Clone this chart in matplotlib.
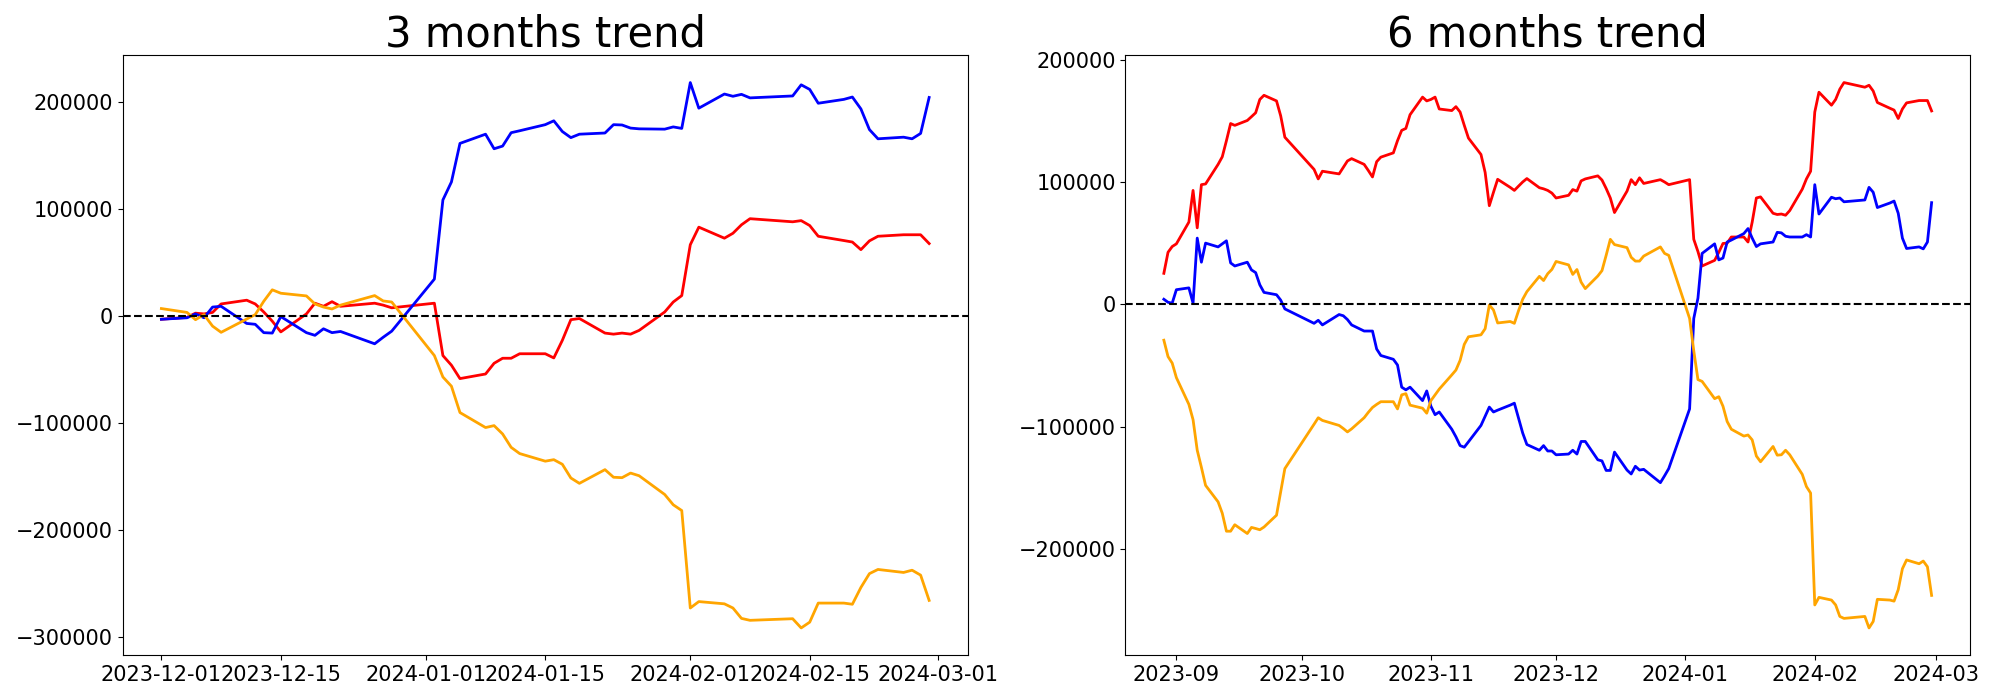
import numpy as np
import pandas as pd
import matplotlib
matplotlib.use("Agg")
import matplotlib.pyplot as plt

# trading days (KRX calendar: weekends + market holidays removed)
holidays = ["2023-09-28", "2023-09-29", "2023-10-02", "2023-10-03", "2023-10-09",
            "2023-12-25", "2023-12-29", "2024-01-01", "2024-02-09", "2024-02-12"]
days_3m = pd.bdate_range("2023-12-01", "2024-02-29").drop(pd.to_datetime(holidays), errors="ignore")
days_6m = pd.bdate_range("2023-08-29", "2024-02-29").drop(pd.to_datetime(holidays), errors="ignore")

#%% 3 months (cumulative)
blue_3m = [-3200,
           -1800, 1800, -1800, 8200, 8900,
           -7100, -7900, -15700, -16100, -700,
           -15700, -18200, -12100, -15700, -14600,
           -26100, -20000, -14300,
           34300, 108200, 125000, 161000,
           169600, 156000, 158500, 171000, 172800,
           178500, 182100, 172100, 166400, 169600,
           170700, 178500, 178200, 175300, 174600,
           174300, 176400, 175000, 217800, 193900,
           207100, 205000, 206800, 203500,
           205300, 215700, 211400, 198500,
           202100, 204300, 193200, 173900, 165300,
           166800, 165300, 170300, 203900]
red_3m = [-3200,
          -1400, 2500, 1800, 3200, 11100,
          14600, 11100, 3600, -5000, -15000,
          1800, 11800, 8900, 13200, 8900,
          11800, 10000, 7500,
          11800, -37100, -46100, -58600,
          -54300, -44300, -39600, -39600, -35400,
          -35400, -39300, -22900, -3600, -2500,
          -16100, -17100, -16100, -17100, -13600,
          3600, 12900, 18900, 66400, 82800,
          72500, 77100, 85000, 90700,
          87800, 88900, 84300, 74300,
          70300, 68900, 61800, 70000, 74300,
          75700, 75700, 75700, 67500]
orange_3m = [6800,
             3200, -3600, 1100, -9600, -15400,
             -3000, 1100, 13600, 24300, 21100,
             18600, 11100, 8200, 6400, 10000,
             18900, 13900, 12900,
             -37100, -57100, -65700, -90300,
             -104300, -102500, -110300, -122800, -128600,
             -135700, -134300, -138600, -151400, -156400,
             -143600, -150700, -151100, -146800, -149300,
             -166800, -176400, -181800, -272800, -266800,
             -268900, -272800, -282500, -284300,
             -282800, -291400, -286000, -268200,
             -268200, -269300, -253600, -240700, -236800,
             -239600, -237500, -242100, -265700]

#%% 6 months (cumulative)
blue_6m = [4100, 1600, 900, 11900,
           13400, 900, 54100, 34400, 50000,
           46900, 49400, 51900, 33800, 31300,
           34400, 28100, 25900, 15900, 9700,
           7800, 3400, -3800,
           -15600, -13100, -16900,
           -8400, -9400, -12500, -16900,
           -21900, -21900, -21900, -36600, -41900,
           -45000, -49700, -67800, -70000, -67800,
           -78800, -70900, -83400, -90300, -88100,
           -102200, -108400, -115600, -116900, -112500,
           -99100, -91600, -84100, -88100, -86600,
           -82500, -80900, -93100, -105300, -114700,
           -119400, -115600, -120000, -120000, -123100,
           -122500, -119400, -122500, -112200, -112200,
           -127200, -128100, -135900, -135900, -120900,
           -135600, -138800, -132500, -135600, -135000,
           -145900, -140300, -134400,
           -85600, -11600, 5000, 41600,
           49400, 36300, 37800, 50900, 52500,
           57800, 61900, 54100, 47200, 49400,
           50900, 58800, 58400, 55600, 55000,
           55000, 56900, 55000, 97800, 73800,
           87500, 86300, 86900, 83800,
           85300, 95600, 91600, 79100,
           82800, 84400, 74400, 54100, 45600,
           46900, 45300, 50900, 83100]
red_6m = [25300, 42500, 47200, 49400,
          67200, 93100, 62500, 97800, 98400,
          114400, 120600, 133800, 147800, 146300,
          150300, 153400, 156600, 167500, 170900,
          166300, 154100, 136600,
          110300, 102500, 108800,
          106600, 111900, 117200, 119100,
          114400, 109400, 104100, 116600, 120300,
          123800, 133800, 142200, 143800, 155000,
          169400, 166300, 167500, 169400, 159700,
          158400, 161600, 157200, 146300, 135900,
          122500, 107800, 80600, 91600, 102200,
          95600, 93100, 96600, 100000, 102800,
          95300, 94400, 93100, 90900, 86900,
          89100, 93800, 92500, 100900, 102500,
          105000, 101600, 94700, 86900, 75000,
          92500, 101900, 97800, 103400, 98800,
          101900, 100000, 97800,
          101900, 53100, 43100, 31300,
          35900, 42500, 49700, 50000, 55000,
          55000, 50900, 67200, 86900, 87800,
          74400, 73400, 73800, 72800, 76600,
          94100, 102500, 108800, 157200, 173400,
          162800, 167500, 175900, 181300,
          177500, 179100, 174400, 165000,
          160300, 158800, 151900, 159700, 164700,
          166600, 166600, 166600, 158100]
orange_6m = [-29400, -42800, -48100, -60000,
             -81900, -94400, -119400, -133400, -148100,
             -161600, -170900, -185600, -185600, -180300,
             -187500, -182500, -183400, -184400, -182200,
             -172500, -153400, -134400,
             -98100, -92800, -95000,
             -99100, -101600, -104400, -101900,
             -92800, -88400, -84400, -81900, -79700,
             -79700, -85600, -74100, -73100, -82500,
             -85000, -89100, -78800, -74100, -69400,
             -57800, -53800, -45900, -32800, -26600,
             -25000, -20000, -600, -4700, -15300,
             -14100, -15600, -5300, 4100, 10300,
             22800, 19400, 25000, 28500, 35000,
             32200, 24400, 28400, 18100, 12800,
             23100, 27500, 40000, 53100, 48800,
             46300, 38400, 35300, 35300, 39400,
             46900, 41600, 40000,
             -11600, -38100, -61600, -63100,
             -77200, -75600, -83400, -95900, -102200,
             -107800, -106900, -110900, -124100, -128800,
             -116300, -123400, -123100, -119400, -123100,
             -139100, -149100, -154400, -245900, -239700,
             -241900, -245900, -255300, -256900,
             -255300, -264700, -259400, -241300,
             -241900, -242800, -233400, -216300, -209100,
             -212200, -210000, -214700, -238100]

panels = [("3 months trend", days_3m, red_3m, blue_3m, orange_3m),
          ("6 months trend", days_6m, red_6m, blue_6m, orange_6m)]

#%% Plotting
fig, axes = plt.subplots(1, 2, figsize=(20, 7), dpi=100)

for ax, (title, days, red, blue, orange) in zip(axes, panels):
    ax.plot(days, red, color="red", linewidth=2)
    ax.plot(days, blue, color="blue", linewidth=2)
    ax.plot(days, orange, color="orange", linewidth=2)
    ax.axhline(0, color="black", linestyle="--", linewidth=1.5)
    ax.set_title(title, fontsize=30)
    ax.tick_params(axis="both", labelsize=15)

fig.subplots_adjust(left=0.0615, right=0.985, bottom=0.064, top=0.921, wspace=0.187)
fig.savefig("out.png")
